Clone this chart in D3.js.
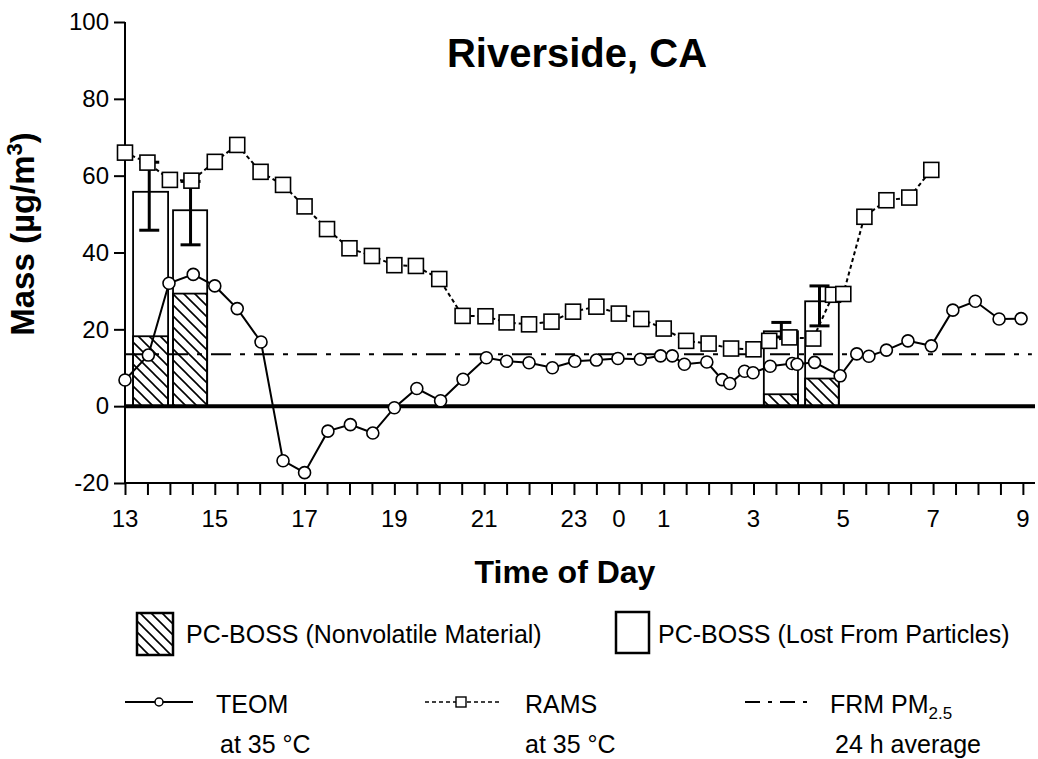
<!DOCTYPE html>
<html>
<head>
<meta charset="utf-8">
<script src="https://cdn.jsdelivr.net/npm/d3@7"></script>
<style>
  html, body { margin: 0; padding: 0; background: #fff; }
  svg { display: block; font-family: "Liberation Sans", Arial, sans-serif; }
</style>
</head>
<body>
<svg id="chart" width="1038" height="759"></svg>
<script>
// Time is in hours since midnight of the first day (24 = midnight, 33 = 9 the next morning).

// TEOM at 35 °C
const teomTime = [13.0, 13.52, 13.98, 14.52, 15.0, 15.5, 16.03, 16.52, 17.0, 17.52, 18.02, 18.52,
  19.0, 19.5, 20.03, 20.53, 21.05, 21.5, 22.0, 22.52, 23.02, 23.5, 23.98, 24.48, 24.93, 25.19,
  25.46, 25.96, 26.3, 26.47, 26.8, 26.99, 27.37, 27.86, 27.97, 28.36, 28.93, 29.3, 29.57, 29.96,
  30.44, 30.96, 31.44, 31.94, 32.47, 32.96];
const teomMass = [6.8, 13.3, 32.0, 34.3, 31.3, 25.4, 16.7, -14.2, -17.3, -6.5, -4.8, -7.0,
  -0.4, 4.6, 1.4, 7.0, 12.6, 11.7, 11.3, 10.0, 11.7, 12.0, 12.4, 12.2, 13.1, 13.1,
  10.9, 11.5, 6.9, 5.9, 9.1, 8.7, 10.4, 11.1, 10.9, 11.4, 7.9, 13.6, 13.0, 14.6,
  17.0, 15.7, 25.0, 27.3, 22.7, 22.8];

// RAMS at 35 °C
const ramsTime = [13.0, 13.5, 14.0, 14.48, 15.0, 15.5, 16.02, 16.52, 17.0, 17.5, 18.0, 18.5,
  19.0, 19.48, 20.0, 20.52, 21.03, 21.5, 22.0, 22.5, 22.98, 23.5, 24.0, 24.5, 25.0, 25.5,
  26.0, 26.5, 27.0, 27.35, 27.8, 28.33, 28.77, 29.0, 29.47, 29.96, 30.47, 30.96];
const ramsMass = [66.0, 63.4, 58.9, 58.7, 63.6, 68.0, 61.0, 57.6, 52.0, 46.1, 41.1, 39.1,
  36.7, 36.5, 33.1, 23.5, 23.4, 21.8, 21.3, 22.0, 24.6, 25.9, 24.1, 22.7, 20.2, 17.0,
  16.3, 15.0, 14.8, 17.0, 17.9, 17.6, 29.0, 29.2, 49.3, 53.6, 54.3, 61.5];

// FRM PM2.5, 24 h average
const frmMass = 13.5;
const frmSpan = [13.0, 33.2];

// PC-BOSS samples: sampling interval, nonvolatile part, total, and uncertainty range
const bossStart = [13.18, 14.07, 27.23, 28.15];
const bossEnd = [13.96, 14.83, 27.99, 28.90];
const bossNonvolatile = [18.2, 29.3, 3.1, 7.2];
const bossTotal = [55.8, 51.0, 19.5, 27.3];
const errTime = [13.54, 14.46, 27.62, 28.47];
const errLow = [45.8, 42.0, 18.0, 20.9];
const errHigh = [63.5, 58.5, 21.8, 31.3];

// Axis ticks
const yTicks = [-20, 0, 20, 40, 60, 80, 100];
const xMinorTicks = d3.range(13, 33.01, 0.5);
const xLabelHours = [13, 15, 17, 19, 21, 23, 24, 25, 27, 29, 31, 33];
const xLabelText = ["13", "15", "17", "19", "21", "23", "0", "1", "3", "5", "7", "9"];

const svg = d3.select("#chart");

const x = d3.scaleLinear().domain([13, 33.27]).range([125, 1035]);
const y = d3.scaleLinear().domain([-20, 100]).range([483, 22]);

// hatch pattern for the nonvolatile fraction
const defs = svg.append("defs");
const pat = defs.append("pattern")
  .attr("id", "hatch").attr("patternUnits", "userSpaceOnUse")
  .attr("width", 11).attr("height", 11);
pat.append("path")
  .attr("d", "M0,0 L11,11 M-2,9 L2,13 M9,-2 L13,2")
  .attr("stroke", "#000").attr("stroke-width", 1.6).attr("fill", "none");

// ---- axes ----
const gy = svg.append("g").attr("transform", `translate(${x(13)},0)`)
  .call(d3.axisLeft(y).tickValues(yTicks).tickSize(11).tickPadding(5).tickFormat(d => String(d)));
gy.select(".domain").attr("stroke-width", 2).attr("d", `M0,${y(-20)}V${y(100)}`);
gy.selectAll(".tick line").attr("stroke-width", 2);
gy.selectAll(".tick text").attr("font-size", 24).attr("fill", "#000")
  .attr("font-family", "'Liberation Sans', Arial, sans-serif");

const gx = svg.append("g").attr("transform", `translate(0,${y(-20)})`)
  .call(d3.axisBottom(x).tickValues(xMinorTicks).tickSize(12).tickFormat(""));
gx.select(".domain").attr("stroke-width", 2).attr("d", `M${x(13)},0H${x(33.27)}`);
gx.selectAll(".tick line").attr("stroke-width", 2);
gx.selectAll(".xlab").data(xLabelHours).join("text")
  .attr("class", "xlab")
  .attr("x", d => x(d)).attr("y", 44)
  .attr("text-anchor", "middle").attr("font-size", 24).attr("fill", "#000")
  .text((d, i) => xLabelText[i]);

// ---- PC-BOSS bars ----
const bars = svg.append("g");
bars.selectAll("rect.total").data(bossTotal).join("rect")
  .attr("class", "total")
  .attr("x", (d, i) => x(bossStart[i]))
  .attr("width", (d, i) => x(bossEnd[i]) - x(bossStart[i]))
  .attr("y", d => y(d)).attr("height", d => y(0) - y(d))
  .attr("fill", "#fff").attr("stroke", "#000").attr("stroke-width", 1.8);
bars.selectAll("rect.nonvol").data(bossNonvolatile).join("rect")
  .attr("class", "nonvol")
  .attr("x", (d, i) => x(bossStart[i]))
  .attr("width", (d, i) => x(bossEnd[i]) - x(bossStart[i]))
  .attr("y", d => y(d)).attr("height", d => y(0) - y(d))
  .attr("fill", "url(#hatch)").attr("stroke", "#000").attr("stroke-width", 1.8);

// error bars
const eb = svg.append("g").attr("stroke", "#000").attr("stroke-width", 3);
eb.selectAll("line.v").data(errTime).join("line").attr("class", "v")
  .attr("x1", d => x(d)).attr("x2", d => x(d))
  .attr("y1", (d, i) => y(errLow[i])).attr("y2", (d, i) => y(errHigh[i]));
eb.selectAll("line.lo").data(errTime).join("line").attr("class", "lo")
  .attr("x1", d => x(d) - 10).attr("x2", d => x(d) + 10)
  .attr("y1", (d, i) => y(errLow[i])).attr("y2", (d, i) => y(errLow[i]));
eb.selectAll("line.hi").data(errTime).join("line").attr("class", "hi")
  .attr("x1", d => x(d) - 10).attr("x2", d => x(d) + 10)
  .attr("y1", (d, i) => y(errHigh[i])).attr("y2", (d, i) => y(errHigh[i]));

// zero line
svg.append("line")
  .attr("x1", x(13)).attr("x2", x(33.27)).attr("y1", y(0)).attr("y2", y(0))
  .attr("stroke", "#000").attr("stroke-width", 4);

// FRM 24 h average
svg.append("line")
  .attr("x1", x(frmSpan[0])).attr("x2", x(frmSpan[1]))
  .attr("y1", y(frmMass)).attr("y2", y(frmMass))
  .attr("stroke", "#000").attr("stroke-width", 2).attr("stroke-dasharray", "20,9,5,9");

// TEOM
const teom = teomTime.map((t, i) => [t, teomMass[i]]);
svg.append("path").datum(teom)
  .attr("d", d3.line().x(d => x(d[0])).y(d => y(d[1])))
  .attr("fill", "none").attr("stroke", "#000").attr("stroke-width", 2);
svg.append("g").selectAll("circle").data(teom).join("circle")
  .attr("cx", d => x(d[0])).attr("cy", d => y(d[1])).attr("r", 6)
  .attr("fill", "#fff").attr("stroke", "#000").attr("stroke-width", 1.6);

// RAMS
const rams = ramsTime.map((t, i) => [t, ramsMass[i]]);
svg.append("path").datum(rams)
  .attr("d", d3.line().x(d => x(d[0])).y(d => y(d[1])))
  .attr("fill", "none").attr("stroke", "#000").attr("stroke-width", 2)
  .attr("stroke-dasharray", "4,3");
svg.append("g").selectAll("rect").data(rams).join("rect")
  .attr("x", d => x(d[0]) - 7.5).attr("y", d => y(d[1]) - 7.5)
  .attr("width", 15).attr("height", 15)
  .attr("fill", "#fff").attr("stroke", "#000").attr("stroke-width", 1.6);

// ---- titles ----
svg.append("text").attr("x", 577).attr("y", 67).attr("text-anchor", "middle")
  .attr("font-size", 40).attr("font-weight", "bold").text("Riverside, CA");

svg.append("text").attr("x", 565).attr("y", 583).attr("text-anchor", "middle")
  .attr("font-size", 32).attr("font-weight", "bold").text("Time of Day");

const yl = svg.append("text")
  .attr("transform", "translate(34,234) rotate(-90)")
  .attr("text-anchor", "middle").attr("font-size", 33).attr("font-weight", "bold");
yl.append("tspan").text("Mass (µg/m");
yl.append("tspan").attr("font-size", 22).attr("dy", -12).text("3");
yl.append("tspan").attr("dy", 12).text(")");

// ---- legend ----
const lg = svg.append("g").attr("font-size", 25);
lg.append("rect").attr("x", 137).attr("y", 613).attr("width", 36).attr("height", 42)
  .attr("fill", "url(#hatch)").attr("stroke", "#000").attr("stroke-width", 2.5);
lg.append("text").attr("x", 186).attr("y", 643).text("PC-BOSS (Nonvolatile Material)");
lg.append("rect").attr("x", 616).attr("y", 612).attr("width", 33).attr("height", 41)
  .attr("fill", "#fff").attr("stroke", "#000").attr("stroke-width", 2.5);
lg.append("text").attr("x", 658).attr("y", 643).text("PC-BOSS (Lost From Particles)");

// TEOM key
lg.append("line").attr("x1", 125).attr("x2", 193).attr("y1", 702).attr("y2", 702)
  .attr("stroke", "#000").attr("stroke-width", 2);
lg.append("circle").attr("cx", 159).attr("cy", 702).attr("r", 4)
  .attr("fill", "#fff").attr("stroke", "#000").attr("stroke-width", 1.5);
lg.append("text").attr("x", 216).attr("y", 713).text("TEOM");
lg.append("text").attr("x", 220).attr("y", 753).text("at 35 °C");

// RAMS key
lg.append("line").attr("x1", 425).attr("x2", 500).attr("y1", 702).attr("y2", 702)
  .attr("stroke", "#000").attr("stroke-width", 1.6).attr("stroke-dasharray", "4,3");
lg.append("rect").attr("x", 456).attr("y", 697).attr("width", 10).attr("height", 10)
  .attr("fill", "#fff").attr("stroke", "#000").attr("stroke-width", 1.4);
lg.append("text").attr("x", 525).attr("y", 713).text("RAMS");
lg.append("text").attr("x", 525).attr("y", 753).text("at 35 °C");

// FRM key
lg.append("line").attr("x1", 745).attr("x2", 812).attr("y1", 702).attr("y2", 702)
  .attr("stroke", "#000").attr("stroke-width", 2).attr("stroke-dasharray", "15,8,4,8");
const frmText = lg.append("text").attr("x", 830).attr("y", 713);
frmText.append("tspan").text("FRM PM");
frmText.append("tspan").attr("font-size", 17).attr("dy", 6).text("2.5");
lg.append("text").attr("x", 835).attr("y", 753).text("24 h average");
</script>
</body>
</html>
